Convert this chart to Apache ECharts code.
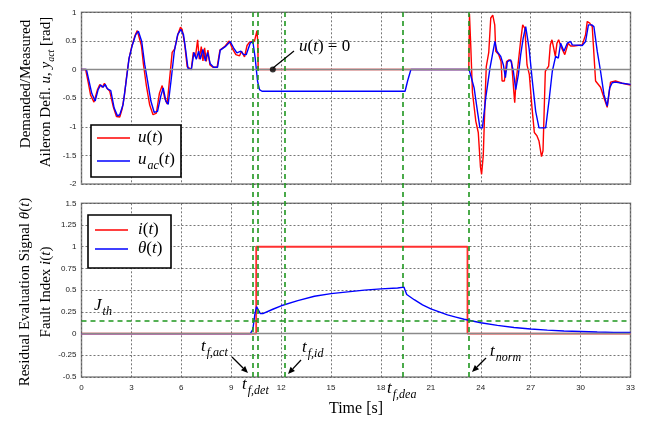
<!DOCTYPE html>
<html>
<head>
<meta charset="utf-8">
<script src="https://cdn.jsdelivr.net/npm/echarts@6/dist/echarts.min.js"></script>
<style>
html,body{margin:0;padding:0;background:#fff;}
#c{width:652px;height:425px;}
</style>
</head>
<body>
<div id="c"></div>
<script>
// ---------- DATA ----------
const xTicks = {min: 0, max: 33, interval: 3};
const topY = {min: -2, max: 1, interval: 0.5};
const botY = {min: -0.5, max: 1.5, interval: 0.25};

// demanded aileron deflection u(t) [t, rad]
const uData = [[0,0],[0.25,0],[0.4,-0.22],[0.55,-0.45],[0.75,-0.57],[0.95,-0.36],[1.1,-0.26],[1.25,-0.31],[1.38,-0.24],[1.52,-0.32],[1.7,-0.38],[1.9,-0.64],[2.1,-0.82],[2.3,-0.83],[2.45,-0.68],[2.58,-0.45],[2.7,-0.15],[2.85,0.18],[3.0,0.38],[3.2,0.58],[3.35,0.68],[3.45,0.66],[3.6,0.42],[3.72,0.1],[3.9,-0.28],[4.1,-0.62],[4.3,-0.79],[4.5,-0.76],[4.68,-0.42],[4.85,-0.28],[5.0,-0.5],[5.15,-0.6],[5.3,-0.15],[5.45,0.3],[5.6,0.36],[5.8,0.62],[5.95,0.74],[6.05,0.7],[6.2,0.45],[6.35,0.05],[6.6,0],[6.72,0.3],[6.85,0.22],[6.98,0.52],[7.08,0.18],[7.2,0.4],[7.3,0.15],[7.4,0.38],[7.5,0.14],[7.6,0.34],[7.72,0.08],[7.9,0.04],[8.15,0.04],[8.32,0.34],[8.6,0.4],[8.88,0.5],[9.08,0.36],[9.28,0.26],[9.5,0.24],[9.62,0.32],[9.8,0.22],[9.95,0.42],[10.1,0.48],[10.4,0.5],[10.55,0.68],[10.6,0.45],[10.62,0],[23.28,0],[23.32,0.97],[23.4,0.4],[23.5,-0.4],[23.7,-0.9],[23.85,-1.1],[23.98,-1.7],[24.05,-1.83],[24.15,-1.5],[24.25,-0.6],[24.33,0.05],[24.48,0.3],[24.6,0.9],[24.72,0.95],[24.84,0.78],[24.9,0.32],[25.08,0.26],[25.22,0.14],[25.28,-0.2],[25.42,-0.2],[25.55,0.14],[25.7,0.17],[25.85,0.14],[25.98,-0.36],[26.04,-0.58],[26.12,-0.2],[26.25,0.11],[26.38,0.46],[26.52,0.78],[26.65,0.72],[26.78,0.08],[26.92,-0.09],[27.08,-0.67],[27.22,-1.1],[27.38,-1.16],[27.5,-1.25],[27.65,-1.52],[27.74,-1.42],[27.88,-0.03],[28.08,0.06],[28.18,0.43],[28.28,0.52],[28.38,0.38],[28.48,0.23],[28.58,0.46],[28.68,0.52],[28.85,0.38],[29.05,0.26],[29.25,0.46],[29.4,0.41],[29.6,0.41],[30.1,0.43],[30.3,0.61],[30.4,0.84],[30.55,0.81],[30.7,0.75],[30.9,-0.2],[31.2,-0.31],[31.4,-0.49],[31.6,-0.66],[31.8,-0.22],[32.1,-0.2],[32.5,-0.24],[33,-0.27]];

// measured actuator deflection u_ac(t) [t, rad]
const uacData = [[0,0],[0.3,0],[0.45,-0.2],[0.62,-0.42],[0.82,-0.55],[1.0,-0.35],[1.15,-0.27],[1.3,-0.31],[1.42,-0.26],[1.56,-0.34],[1.76,-0.37],[1.96,-0.67],[2.16,-0.81],[2.3,-0.79],[2.5,-0.61],[2.66,-0.26],[2.86,0.2],[3.06,0.43],[3.26,0.61],[3.42,0.67],[3.62,0.49],[3.8,0.09],[3.97,-0.2],[4.17,-0.55],[4.37,-0.75],[4.57,-0.73],[4.77,-0.46],[4.91,-0.32],[5.07,-0.55],[5.21,-0.61],[5.38,-0.2],[5.58,0.32],[5.78,0.61],[5.98,0.7],[6.13,0.61],[6.27,0.32],[6.4,0.02],[6.6,0],[6.76,0.3],[6.9,0.18],[7.04,0.32],[7.14,0.18],[7.3,0.35],[7.44,0.15],[7.58,0.3],[7.74,0.1],[7.94,0.04],[8.18,0.04],[8.34,0.34],[8.64,0.4],[8.94,0.49],[9.14,0.38],[9.34,0.29],[9.58,0.32],[9.74,0.26],[9.9,0.26],[10.14,0.46],[10.3,0.49],[10.44,0.2],[10.58,-0.2],[10.7,-0.35],[10.85,-0.38],[19.45,-0.38],[19.6,-0.2],[19.8,0],[23.3,0],[23.4,-0.03],[23.6,-0.32],[23.8,-0.73],[23.95,-1.02],[24.1,-1.02],[24.3,-0.49],[24.55,0.02],[24.85,0.49],[24.97,0.32],[25.2,0.23],[25.36,0.08],[25.48,-0.14],[25.6,0.14],[25.8,0.17],[25.96,-0.03],[26.1,-0.35],[26.26,-0.09],[26.4,0.26],[26.55,0.55],[26.7,0.75],[26.9,0.38],[27.1,-0.2],[27.3,-0.73],[27.5,-1.02],[27.9,-1.02],[28.1,-0.55],[28.3,-0.03],[28.5,0.23],[28.66,0.2],[28.8,0.46],[29.0,0.32],[29.2,0.46],[29.4,0.49],[29.5,0.43],[30.1,0.42],[30.3,0.49],[30.47,0.78],[30.67,0.78],[30.8,0.75],[31.0,0.32],[31.2,-0.03],[31.4,-0.43],[31.6,-0.64],[31.75,-0.32],[31.9,-0.23],[32.1,-0.22],[32.5,-0.24],[33,-0.26]];

// fault index i(t)
const iData = [[0,0],[10.5,0],[10.5,1],[23.2,1],[23.2,0],[33,0]];

// residual evaluation signal theta(t)
const thetaData = [[0,0],[10.15,0],[10.3,0.05],[10.42,0.22],[10.52,0.31],[10.62,0.3],[10.75,0.23],[10.9,0.23],[11.5,0.28],[12,0.32],[13,0.38],[14,0.43],[15,0.46],[16,0.48],[17,0.5],[18,0.515],[19,0.525],[19.38,0.535],[19.45,0.5],[19.55,0.45],[20,0.39],[20.5,0.33],[21,0.285],[21.5,0.25],[22,0.215],[22.5,0.19],[23,0.165],[23.5,0.145],[24,0.125],[25,0.095],[26,0.07],[27,0.052],[28,0.04],[29,0.03],[30,0.024],[31,0.018],[32,0.014],[33,0.012]];

// event times (green dashed lines): t_f,act, t_f,det, t_f,id, t_f,dea, t_norm
const eventTimes = [10.27, 10.62, 12.24, 19.33, 23.29];
const jth = 0.15;
const markerPoint = [[11.5, 0]];

// ---------- CHART ----------
const chart = echarts.init(document.getElementById('c'), null, {renderer: 'canvas'});
const SERIF = '"Liberation Serif", "DejaVu Serif", serif';
const SANS = '"Liberation Sans", Arial, sans-serif';
const gridLine = {lineStyle: {type: [2, 2], color: '#555', width: 0.8}};
const frame = {show: true, borderColor: '#8a8a8a', borderWidth: 1.5, backgroundColor: '#fff'};
const G = '#1e961e';

function xAx(idx, labels) {
  return {gridIndex: idx, type: 'value', min: xTicks.min, max: xTicks.max, interval: xTicks.interval,
    axisLine: {show: false}, axisTick: {show: false},
    axisLabel: {show: labels, fontSize: 8, color: '#222', fontFamily: SANS, margin: 7},
    splitLine: Object.assign({show: true}, gridLine)};
}
function yAx(idx, r) {
  return {gridIndex: idx, type: 'value', min: r.min, max: r.max, interval: r.interval,
    axisLine: {show: false}, axisTick: {show: false},
    axisLabel: {fontSize: 8, color: '#222', fontFamily: SANS, margin: 5},
    splitLine: Object.assign({show: true}, gridLine)};
}
const zeroLine = {silent: true, symbol: 'none', label: {show: false},
  lineStyle: {color: '#8a8a8a', type: 'solid', width: 1.3}, data: [{yAxis: 0}]};

const rich = {
  n: {fontFamily: SERIF, fontSize: 15, color: '#111'},
  i: {fontFamily: SERIF, fontSize: 15, fontStyle: 'italic', color: '#111'},
  s: {fontFamily: SERIF, fontSize: 10, fontStyle: 'italic', color: '#111', verticalAlign: 'top', padding: [10, 0, 0, 0]}
};
const richM = {
  n: {fontFamily: SERIF, fontSize: 17, color: '#222'},
  i: {fontFamily: SERIF, fontSize: 17, fontStyle: 'italic', color: '#222'},
  s: {fontFamily: SERIF, fontSize: 12, fontStyle: 'italic', color: '#222', verticalAlign: 'top', padding: [11, 0, 0, 1]}
};
function txt(x, y, text, opts) {
  return Object.assign({type: 'text', x: x, y: y, z: 100,
    style: {text: text, rich: rich, align: 'left', verticalAlign: 'middle', fontFamily: SERIF, fontSize: 15, fill: '#111'}}, opts || {});
}
function mtxt(x, y, text) {
  return {type: 'text', x: x, y: y, z: 100,
    style: {text: text, rich: richM, align: 'left', verticalAlign: 'middle'}};
}
function arrow(x1, y1, x2, y2) {
  const a = Math.atan2(y2 - y1, x2 - x1), L = 7, W = 3;
  const bx = x2 - L * Math.cos(a), by = y2 - L * Math.sin(a);
  const px = -Math.sin(a) * W, py = Math.cos(a) * W;
  return [
    {type: 'line', z: 100, shape: {x1: x1, y1: y1, x2: bx, y2: by}, style: {stroke: '#000', lineWidth: 1.3}},
    {type: 'polygon', z: 100, shape: {points: [[x2, y2], [bx + px, by + py], [bx - px, by - py]]}, style: {fill: '#000'}}
  ];
}

const graphics = [
  // y axis titles
  txt(26, 84, '', {rotation: Math.PI / 2, style: {text: '{n|Demanded/Measured}', rich: rich, align: 'center', verticalAlign: 'middle'}}),
  txt(46, 92, '', {rotation: Math.PI / 2, style: {text: '{n|Aileron Defl. }{i|u}{n|, }{i|y}{s|act}{n| [rad]}', rich: rich, align: 'center', verticalAlign: 'middle'}}),
  txt(25, 292, '', {rotation: Math.PI / 2, style: {text: '{n|Residual Evaluation Signal }{i|θ}{n|(}{i|t}{n|)}', rich: rich, align: 'center', verticalAlign: 'middle'}}),
  txt(46, 292, '', {rotation: Math.PI / 2, style: {text: '{n|Fault Index }{i|i}{n|(}{i|t}{n|)}', rich: rich, align: 'center', verticalAlign: 'middle'}}),
  // x axis title
  txt(356, 409, '', {style: {text: '{n|Time [s]}', rich: {n: {fontFamily: SERIF, fontSize: 16, color: '#111'}}, align: 'center', verticalAlign: 'middle'}}),
  // legend top
  {type: 'rect', z: 90, shape: {x: 91, y: 125, width: 90, height: 52}, style: {fill: '#fff', stroke: '#000', lineWidth: 1.6}},
  {type: 'line', z: 91, shape: {x1: 97, y1: 138, x2: 130, y2: 138}, style: {stroke: '#ff0000', lineWidth: 1.6}},
  {type: 'line', z: 91, shape: {x1: 97, y1: 161, x2: 130, y2: 161}, style: {stroke: '#0000ff', lineWidth: 1.6}},
  mtxt(138, 138, '{i|u}{n|(}{i|t}{n|)}'),
  mtxt(138, 160, '{i|u}{s|ac}{n|(}{i|t}{n|)}'),
  // legend bottom
  {type: 'rect', z: 90, shape: {x: 88, y: 215, width: 83, height: 53}, style: {fill: '#fff', stroke: '#000', lineWidth: 1.6}},
  {type: 'line', z: 91, shape: {x1: 95, y1: 230, x2: 128, y2: 230}, style: {stroke: '#ff0000', lineWidth: 1.6}},
  {type: 'line', z: 91, shape: {x1: 95, y1: 249, x2: 128, y2: 249}, style: {stroke: '#0000ff', lineWidth: 1.6}},
  mtxt(138, 230, '{i|i}{n|(}{i|t}{n|)}'),
  mtxt(138, 249, '{i|θ}{n|(}{i|t}{n|)}'),
  // u(t)=0 annotation
  {type: 'line', z: 100, shape: {x1: 273, y1: 68, x2: 294, y2: 51}, style: {stroke: '#000', lineWidth: 1.2}},
  mtxt(299, 47, '{i|u}{n|(}{i|t}{n|) = 0}'),
  // J_th
  mtxt(94, 306, '{i|J}{s|th}'),
  // event labels
  mtxt(201, 347, '{i|t}{s|f,act}'),
  mtxt(242, 385, '{i|t}{s|f,det}'),
  mtxt(302, 348, '{i|t}{s|f,id}'),
  mtxt(387, 389, '{i|t}{s|f,dea}'),
  mtxt(490, 352, '{i|t}{s|norm}')
].concat(arrow(232, 357, 248, 373), arrow(301, 360, 288, 374), arrow(486, 358, 472, 372));

const option = {
  animation: false,
  backgroundColor: '#fff',
  grid: [
    Object.assign({left: 81.5, top: 12.3, width: 549, height: 171.7}, frame),
    Object.assign({left: 81.5, top: 203.3, width: 549, height: 173.7}, frame),
    {left: 81.5, top: 12.3, width: 549, height: 364.7, show: false}
  ],
  xAxis: [xAx(0, false), xAx(1, true),
    {gridIndex: 2, type: 'value', min: xTicks.min, max: xTicks.max, show: false}],
  yAxis: [yAx(0, topY), yAx(1, botY),
    {gridIndex: 2, type: 'value', min: 0, max: 1, show: false}],
  series: [
    {type: 'line', xAxisIndex: 0, yAxisIndex: 0, data: [], markLine: zeroLine, z: 2},
    {type: 'line', xAxisIndex: 1, yAxisIndex: 1, data: [], markLine: zeroLine, z: 2},
    {name: 'u(t)', type: 'line', xAxisIndex: 0, yAxisIndex: 0, data: uData, symbol: 'none', z: 3,
      lineStyle: {color: '#ff0000', width: 1.4}},
    {name: 'u_ac(t)', type: 'line', xAxisIndex: 0, yAxisIndex: 0, data: uacData, symbol: 'none', z: 4,
      lineStyle: {color: '#0000ff', width: 1.4}},
    {type: 'scatter', xAxisIndex: 0, yAxisIndex: 0, data: markerPoint, symbolSize: 6, z: 6,
      itemStyle: {color: '#000'}},
    {name: 'i(t)', type: 'line', xAxisIndex: 1, yAxisIndex: 1, data: iData, symbol: 'none', z: 3,
      lineStyle: {color: '#ff3030', width: 1.8}},
    {name: 'θ(t)', type: 'line', xAxisIndex: 1, yAxisIndex: 1, data: thetaData, symbol: 'none', z: 4,
      lineStyle: {color: '#0000ff', width: 1.4},
      markLine: {silent: true, symbol: 'none', label: {show: false},
        lineStyle: {color: G, type: [5, 4], width: 1.6}, data: [{yAxis: jth}]}},
    {type: 'line', xAxisIndex: 2, yAxisIndex: 2, data: [[0, 0]], symbol: 'none', z: 5,
      lineStyle: {opacity: 0},
      markLine: {silent: true, symbol: 'none', label: {show: false},
        lineStyle: {color: G, type: [5, 4], width: 1.6},
        data: eventTimes.map(t => ({xAxis: t}))}}
  ],
  graphic: graphics
};
chart.setOption(option);
</script>
</body>
</html>
